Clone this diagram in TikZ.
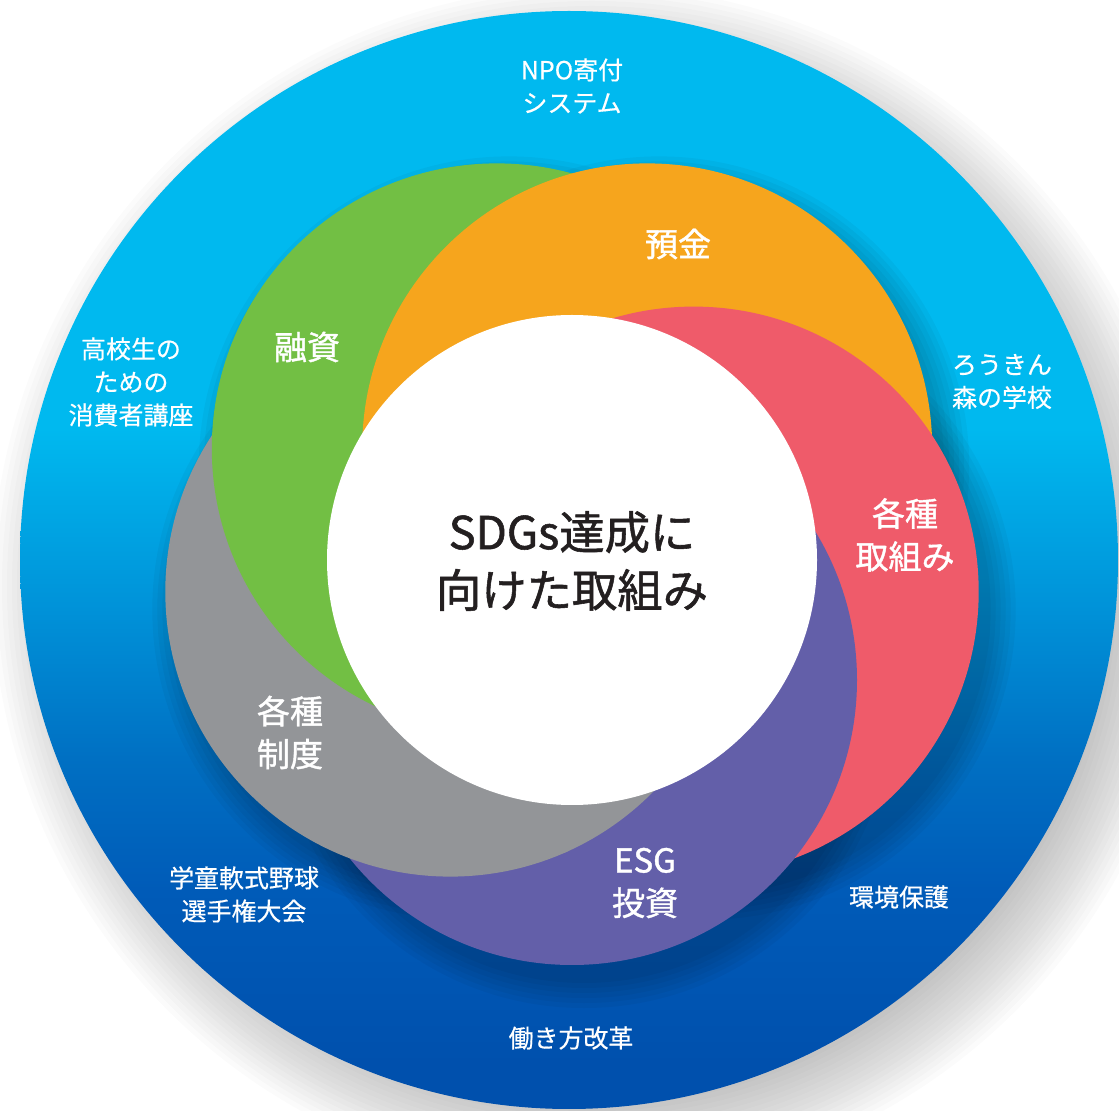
\documentclass[tikz,border=0pt]{standalone}
\usepackage{fontspec}
\setmainfont{Noto Sans CJK JP}
\newfontfamily\jpmed[FakeBold=1.2]{Noto Sans CJK JP}
\newfontfamily\jplight[FakeBold=0.5]{Noto Sans CJK JP}
\definecolor{cgreen}{HTML}{72BF44}
\definecolor{corange}{HTML}{F6A51D}
\definecolor{cred}{HTML}{EF5B6A}
\definecolor{cpurple}{HTML}{635FA9}
\definecolor{cgray}{HTML}{939598}
\definecolor{ctext}{HTML}{231F20}
\definecolor{b0}{HTML}{0050AD}
\definecolor{b1}{HTML}{005BB8}
\definecolor{b2}{HTML}{0070C3}
\definecolor{b3}{HTML}{0093D9}
\definecolor{b4}{HTML}{00B9EF}
\pgfdeclareverticalshading{bluegrad}{100bp}{color(0bp)=(b0); color(27bp)=(b0); color(35bp)=(b1); color(41bp)=(b2); color(48bp)=(b3); color(56bp)=(b4); color(100bp)=(b4)}
\tikzset{
  outerlbl/.style={text=white, font=\jplight\fontsize{7.1pt}{9.4pt}\selectfont, align=center, inner sep=0pt},
  ringlbl/.style={text=white, font=\jpmed\fontsize{9.4pt}{12.2pt}\selectfont, align=center, inner sep=0pt},
  centerlbl/.style={text=ctext, font=\jpmed\fontsize{12.9pt}{16.5pt}\selectfont, align=center, inner sep=0pt},
  ring/.style={radius=28.5mm}
}
\begin{document}
\begin{tikzpicture}[x=0.1mm,y=-0.1mm]
\useasboundingbox (0,0) rectangle (1119,1111);
% outer soft shadow
\foreach \r in {515,520,...,600}
  \fill[black,opacity=0.016] (592,586) circle[radius=\r*0.1mm];
% outer blue disc
\shade[shading=bluegrad] (569,560) circle[radius=54.9mm];
% shadows of the coloured circles on the blue disc
\begin{scope}
  \clip (569,560) circle[radius=54.9mm];
  \foreach \cx/\cy in {496.8/448.4, 647.2/448.4, 693.7/591.6, 572/680, 450.3/591.6}
    \foreach \r in {285,290,...,310}
      \fill[black,opacity=0.035] (\cx+12,\cy+18) circle[radius=\r*0.1mm];
\end{scope}
% centres of the five circles
\coordinate (G) at (496.8,448.4);
\coordinate (O) at (647.2,448.4);
\coordinate (R) at (693.7,591.6);
\coordinate (P) at (572,680);
\coordinate (Y) at (450.3,591.6);
% pinwheel: base order
\fill[cpurple] (P) circle[ring];
\fill[cgray] (Y) circle[ring];
\fill[cgreen] (G) circle[ring];
\fill[corange] (O) circle[ring];
\fill[cred] (R) circle[ring];
% purple and grey lie over red
\begin{scope}
  \clip (R) circle[radius=28.8mm];
  \fill[cpurple] (P) circle[ring];
\end{scope}
\begin{scope}
  \clip (R) circle[radius=29.2mm];
  \fill[cgray] (Y) circle[ring];
\end{scope}
% white centre
\fill[white] (572,560) circle[radius=24.5mm];
% labels
\node[centerlbl] (c) at (572,561) {SDGs達成に\\向けた取組み};
\node[ringlbl] (yokin) at (678,244) {預金};
\node[ringlbl] (yushi) at (307,347) {融資};
\node[ringlbl] (torikumi) at (905,535) {各種\\取組み};
\node[ringlbl] (esg) at (645,883) {ESG\\投資};
\node[ringlbl] (seido) at (290,732.5) {各種\\制度};
\node[outerlbl] (npo) at (572,86) {NPO寄付\\システム};
\node[outerlbl] (koza) at (131,382) {高校生の\\ための\\消費者講座};
\node[outerlbl] (mori) at (1002,381.5) {ろうきん\\森の学校};
\node[outerlbl] (yakyu) at (244,894.5) {学童軟式野球\\選手権大会};
\node[outerlbl] (kankyo) at (899,897) {環境保護};
\node[outerlbl] (hataraki) at (571,1038) {働き方改革};
\end{tikzpicture}
\end{document}
